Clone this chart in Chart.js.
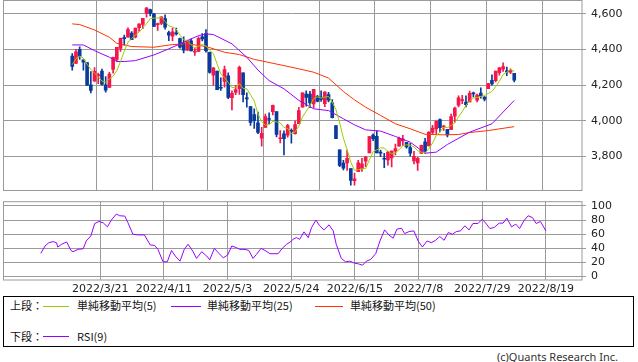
<!DOCTYPE html>
<html>
<head>
<meta charset="utf-8">
<script src="https://cdn.jsdelivr.net/npm/chart.js@4"></script>
<style>
  body { margin: 0; background: #fff; width: 638px; height: 362px; position: relative; overflow: hidden;
         font-family: "Noto Sans CJK JP", "DejaVu Sans", sans-serif; }
  canvas { position: absolute; left: 0; }
  #legend { position: absolute; left: 3px; top: 296px; width: 629px; height: 49px; border: 1px solid #000; }
  .t { position: absolute; font-size: 11px; line-height: 13px; color: #111; white-space: nowrap; }
  .ln { position: absolute; height: 1px; }
  #copy { position: absolute; right: 20px; top: 349px; font: 11px "Noto Sans", sans-serif; color: #333; }
</style>
</head>
<body>
<canvas id="price" width="638" height="191" style="top:0"></canvas>
<canvas id="rsi" width="638" height="104" style="top:192px"></canvas>
<div id="legend"></div>
<div id="copy">(c)Quants Research Inc.</div>
<script>
// S&P500 daily, 2022/3/1 - 2022/8/19 (120 bars)
const opens  = [4363,4322,4401,4342,4327,4202,4223,4252,4280,4203,4188,4289,4345,4407,4462,4469,4493,4469,4523,4541,
                4602,4624,4600,4540,4547,4573,4495,4475,4494,4462,4437,4397,4449,4385,4390,4472,4490,4385,4256,4279,
                4186,4222,4253,4131,4160,4181,4270,4129,4081,4035,3990,3903,3964,4013,4052,4052,3900,3928,3920,3943,
                3929,3985,4077,4151,4150,4096,4137,4134,4097,4148,4101,3974,3838,3764,3765,3733,3665,3716,3734,3775,
                3820,3920,3913,3826,3786,3782,3792,3831,3858,3888,3880,3851,3776,3764,3818,3883,3860,3935,3955,4007,
                3966,3953,3951,4026,4088,4113,4105,4107,4154,4116,4156,4134,4181,4227,4225,4270,4290,4280,4273,4267];
const highs  = [4378,4401,4416,4342,4327,4276,4299,4268,4291,4248,4272,4358,4412,4465,4481,4522,4501,4521,4546,4575,
                4637,4627,4603,4549,4583,4594,4503,4521,4521,4464,4471,4453,4460,4410,4471,4489,4512,4386,4300,4279,
                4241,4308,4270,4169,4200,4307,4270,4157,4081,4068,4050,3964,4038,4046,4089,4052,3946,3944,3981,3955,
                3999,4076,4158,4169,4166,4177,4143,4168,4164,4160,4120,3974,3838,3779,3837,3733,3708,3779,3790,3802,
                3913,3928,3945,3836,3818,3829,3832,3870,3910,3919,3880,3874,3829,3796,3864,3902,3939,3975,3999,4012,
                3975,3953,4039,4078,4140,4144,4140,4167,4161,4151,4186,4137,4211,4258,4280,4301,4325,4302,4292,4267];
const lows   = [4284,4322,4345,4284,4199,4157,4223,4209,4200,4161,4187,4267,4335,4390,4424,4469,4455,4465,4501,4517,
                4582,4589,4530,4507,4540,4514,4450,4450,4480,4408,4381,4395,4392,4367,4388,4448,4385,4268,4200,4175,
                4171,4189,4125,4062,4147,4148,4107,4077,3975,3958,3928,3859,3964,3983,4034,3911,3877,3810,3909,3875,
                3926,3985,4077,4083,4074,4074,4107,4109,4080,4107,4017,3901,3743,3725,3723,3640,3640,3716,3717,3743,
                3820,3889,3820,3800,3738,3752,3742,3809,3858,3863,3847,3802,3759,3722,3818,3818,3860,3929,3927,3938,
                3947,3911,3951,3993,4079,4097,4079,4107,4135,4107,4128,4112,4181,4201,4219,4256,4277,4253,4265,4218];
const closes = [4306,4387,4363,4329,4201,4171,4278,4260,4204,4173,4262,4357,4412,4463,4461,4512,4456,4520,4543,4575,
                4632,4602,4530,4546,4583,4525,4481,4500,4488,4413,4397,4447,4392,4391,4463,4459,4394,4272,4296,4175,
                4183,4288,4132,4155,4175,4300,4147,4123,3991,4001,3935,3930,4024,4008,4088,3924,3901,3901,3974,3941,
                3979,4058,4158,4132,4101,4177,4109,4121,4161,4116,4018,3901,3750,3735,3790,3667,3675,3765,3760,3796,
                3912,3900,3821,3819,3785,3825,3831,3845,3903,3899,3854,3819,3801,3790,3863,3831,3937,3960,3999,3962,
                3967,3921,4024,4072,4130,4119,4091,4155,4152,4145,4140,4122,4210,4207,4280,4297,4305,4275,4284,4228];

const ma5 = [4316,4348,4363,4352,4317,4290,4268,4248,4223,4217,4235,4251,4282,4333,4391,4441,4461,4482,4498,4521,
             4545,4574,4576,4577,4579,4557,4533,4527,4515,4481,4456,4449,4427,4408,4418,4430,4420,4396,4377,4319,
             4264,4243,4215,4187,4187,4210,4182,4180,4147,4112,4039,3996,3976,3980,3997,3995,3989,3964,3958,3928,
             3939,3971,4022,4054,4086,4125,4135,4128,4134,4137,4105,4063,3989,3904,3839,3769,3723,3726,3731,3733,
             3782,3827,3838,3850,3847,3830,3816,3821,3838,3861,3866,3864,3855,3833,3825,3821,3844,3876,3918,3938,
             3965,3962,3975,3989,4023,4053,4087,4113,4129,4132,4137,4143,4154,4165,4192,4223,4260,4273,4288,4278];

const ma25X = [0,3,6,10,12,14,17,22,26,30,34,36,38,43,47,50,53,57,61,65,69,73,76,79,83,87,91,95,98,101,107,113,119];
const ma25V = [4426,4426,4394,4357,4333,4333,4338,4370,4404,4441,4478,4488,4484,4432,4357,4285,4226,4180,4115,4068,
               4058,4012,3978,3950,3943,3913,3881,3819,3825,3868,3937,3984,4115];

const ma50X = [0,2,6,10,12,16,22,27,31,36,41,45,49,57,61,65,69,73,76,79,83,87,91,95,100,104,107,112,119];
const ma50V = [4544,4540,4510,4469,4435,4417,4413,4428,4432,4417,4385,4372,4345,4310,4292,4273,4240,4165,4118,4077,
               4031,3984,3956,3925,3922,3924,3935,3946,3968];

const rsiX = [0,1,1.9,2.9,3.7,4,4.9,6.1,7.1,7.6,8.8,10,10.7,11.8,12.7,13.7,14.7,15.7,16.6,17.8,18.6,19.8,20.5,21.7,22.9,
              24.4,25.8,26.8,27.6,28.8,29.8,30.8,31.7,32.8,33.8,34.7,35.8,36.7,37.9,39.1,39.8,40.9,41.8,43,44,45,46.1,
              46.9,48.1,49,50,50.8,51.9,52.8,54,55.9,56.9,57.9,58.9,59.4,60.2,61,62,63,63.8,64.8,65.7,66.7,67.9,68.9,
              69.6,70.8,71.8,72.8,73.7,74.8,75.8,76.7,77.7,78.9,79.9,81,82,83,83.9,85,85.7,86.8,87.9,88.9,89.9,91,92,
              93,94,95,96,97,97.9,98.9,99.9,100.9,101.8,103,104,105,105.8,106.8,108,108.9,109.8,110.9,111.9,112.8,
              113.8,114.8,115.8,116.7,117.7,119];
const rsiV = [32.5,43.1,47.8,49.3,47.8,41.6,45.5,48.8,36.8,34.9,38.3,39.2,50.2,57.4,75.1,78,76.1,70.3,79.9,88.5,86.1,
              85.6,76.6,59.8,58.9,58.9,44.5,44,38.3,20.6,20.6,36.8,28.7,21.5,38.3,45.5,35.9,25.4,34.9,28.7,23.4,39.7,
              33.5,26.3,30.1,43.1,40.7,38.3,38.3,36.8,25.4,31.1,39.7,36.8,32.1,32.1,39.7,45.5,49.3,52.6,55,52.6,63.2,
              55,69.4,79.9,71.8,66,73.2,64.6,45.5,25.4,20.6,21.5,19.1,17.7,15.8,21.5,23.9,32.1,50.2,66,58.9,54.1,67,
              68.4,60.8,63.6,64.6,50.2,41.6,50.2,47.8,51.2,56.5,51.2,62.2,59.8,63.6,64.6,71.8,66,75.1,75.1,81.3,74.2,
              67.9,69.4,75.6,75.6,82.8,70.3,74.2,67.9,78.9,86.1,83.7,75.1,78,64.6];

const tickIdx = [14, 29, 44, 59, 74, 89, 104, 119];
const tickLabels = ['2022/3/21', '2022/4/11', '2022/5/3', '2022/5/24', '2022/6/15', '2022/7/8', '2022/7/29', '2022/8/19'];
const priceTicks = [3800, 4000, 4200, 4400, 4600];
const rsiTicks = [0, 20, 40, 60, 80, 100];

const UP = '#f5164a', DOWN = '#0a3a9c';
const GRID = '#9a9a9a';
const X_MIN = -8.9, X_MAX = 127.5;

const pts = (xs, vs) => xs.map((x, i) => ({ x, y: vs[i] }));
const candleColor = ctx => {
  const i = ctx.dataIndex;
  return closes[i] >= opens[i] ? UP : DOWN;
};

// kill the label overhang padding so the plot area sits where layout.padding says
const noPad = s => { s.paddingTop = 0; s.paddingBottom = 0; s.paddingLeft = 0; s.paddingRight = 0; };

const frame = {
  id: 'frame',
  afterDraw(chart) {
    const { ctx, chartArea: a } = chart;
    ctx.save();
    ctx.strokeStyle = GRID;
    ctx.lineWidth = 1;
    ctx.strokeRect(a.left + 0.5, a.top, a.right - a.left - 0.5, a.bottom - a.top);
    ctx.restore();
  }
};

const tickFont = { family: 'DejaVu Sans', size: 11 };

function xAxis(showLabels) {
  return {
    type: 'linear', min: X_MIN, max: X_MAX,
    afterBuildTicks: s => { s.ticks = tickIdx.map(v => ({ value: v })); },
    afterFit: s => { s.height = showLabels ? 16 : 0; noPad(s); },
    grid: { color: GRID, drawTicks: false },
    border: { display: false },
    ticks: {
      display: showLabels, padding: 3, color: '#222', font: tickFont, maxRotation: 0, autoSkip: false,
      callback: v => tickLabels[tickIdx.indexOf(v)]
    }
  };
}

function yAxis(min, max, ticks, fmt) {
  return {
    position: 'right', min, max,
    afterBuildTicks: s => { s.ticks = ticks.map(v => ({ value: v })); },
    afterFit: s => { s.width = 56; noPad(s); },
    grid: { color: GRID, tickLength: 4 },
    border: { display: false },
    ticks: { padding: 5, color: '#222', font: tickFont, autoSkip: false, callback: fmt }
  };
}

new Chart(document.getElementById('price'), {
  type: 'bar',
  data: {
    datasets: [
      { type: 'line', data: ma5.map((v, i) => ({ x: i, y: v })), borderColor: '#9ccc00', borderWidth: 1,
        pointRadius: 0, order: 0 },
      { type: 'line', data: pts(ma25X, ma25V), borderColor: '#9a00ff', borderWidth: 1, pointRadius: 0, order: 0 },
      { type: 'line', data: pts(ma50X, ma50V), borderColor: '#ff3300', borderWidth: 1, pointRadius: 0, order: 0 },
      { data: opens.map((o, i) => ({ x: i, y: [o, closes[i]] })), backgroundColor: candleColor,
        barThickness: 3, minBarLength: 1, grouped: false, order: 1 },
      { data: lows.map((l, i) => ({ x: i, y: [l, highs[i]] })), backgroundColor: candleColor,
        barThickness: 1, grouped: false, order: 2 }
    ]
  },
  options: {
    responsive: false, animation: false, devicePixelRatio: 1,
    layout: { padding: { left: 3, top: 0.5, right: 0, bottom: 0.5 } },
    plugins: { legend: { display: false }, tooltip: { enabled: false } },
    scales: {
      x: xAxis(false),
      y: yAxis(3610, 4675, priceTicks, v => v.toLocaleString('en-US'))
    }
  },
  plugins: [frame]
});

new Chart(document.getElementById('rsi'), {
  type: 'line',
  data: {
    datasets: [
      { data: pts(rsiX, rsiV), borderColor: '#9a00ff', borderWidth: 1, pointRadius: 0 }
    ]
  },
  options: {
    responsive: false, animation: false, devicePixelRatio: 1,
    layout: { padding: { left: 3, top: 9.7, right: 0, bottom: 0 } },
    plugins: { legend: { display: false }, tooltip: { enabled: false } },
    scales: {
      x: xAxis(true),
      y: yAxis(-5.3, 106.1, rsiTicks, v => String(v))
    }
  },
  plugins: [frame]
});

// legend box
const legendItems = [
  { row: 0, head: '上段：', line: [43, 26], color: '#9ccc00', label: '単純移動平均(5)', lx: 77 },
  { row: 0, line: [171, 30], color: '#9a00ff', label: '単純移動平均(25)', lx: 207 },
  { row: 0, line: [315, 28], color: '#ff3300', label: '単純移動平均(50)', lx: 350 },
  { row: 1, head: '下段：', line: [43, 26], color: '#9a00ff', label: 'RSI(9)', lx: 77 }
];
const box = document.getElementById('legend');
const rowY = [8.5, 39];
legendItems.forEach(it => {
  const y = rowY[it.row];
  if (it.head) {
    const h = document.createElement('div');
    h.className = 't'; h.textContent = it.head;
    h.style.left = '6px'; h.style.top = (y - 6.5) + 'px';
    box.appendChild(h);
  }
  const l = document.createElement('div');
  l.className = 'ln';
  l.style.left = (it.line[0] - 4) + 'px'; l.style.width = it.line[1] + 'px';
  l.style.top = y + 'px'; l.style.background = it.color;
  box.appendChild(l);
  const t = document.createElement('div');
  t.className = 't'; t.textContent = it.label;
  t.style.left = (it.lx - 4) + 'px'; t.style.top = (y - 6.5) + 'px';
  box.appendChild(t);
});
</script>
</body>
</html>
